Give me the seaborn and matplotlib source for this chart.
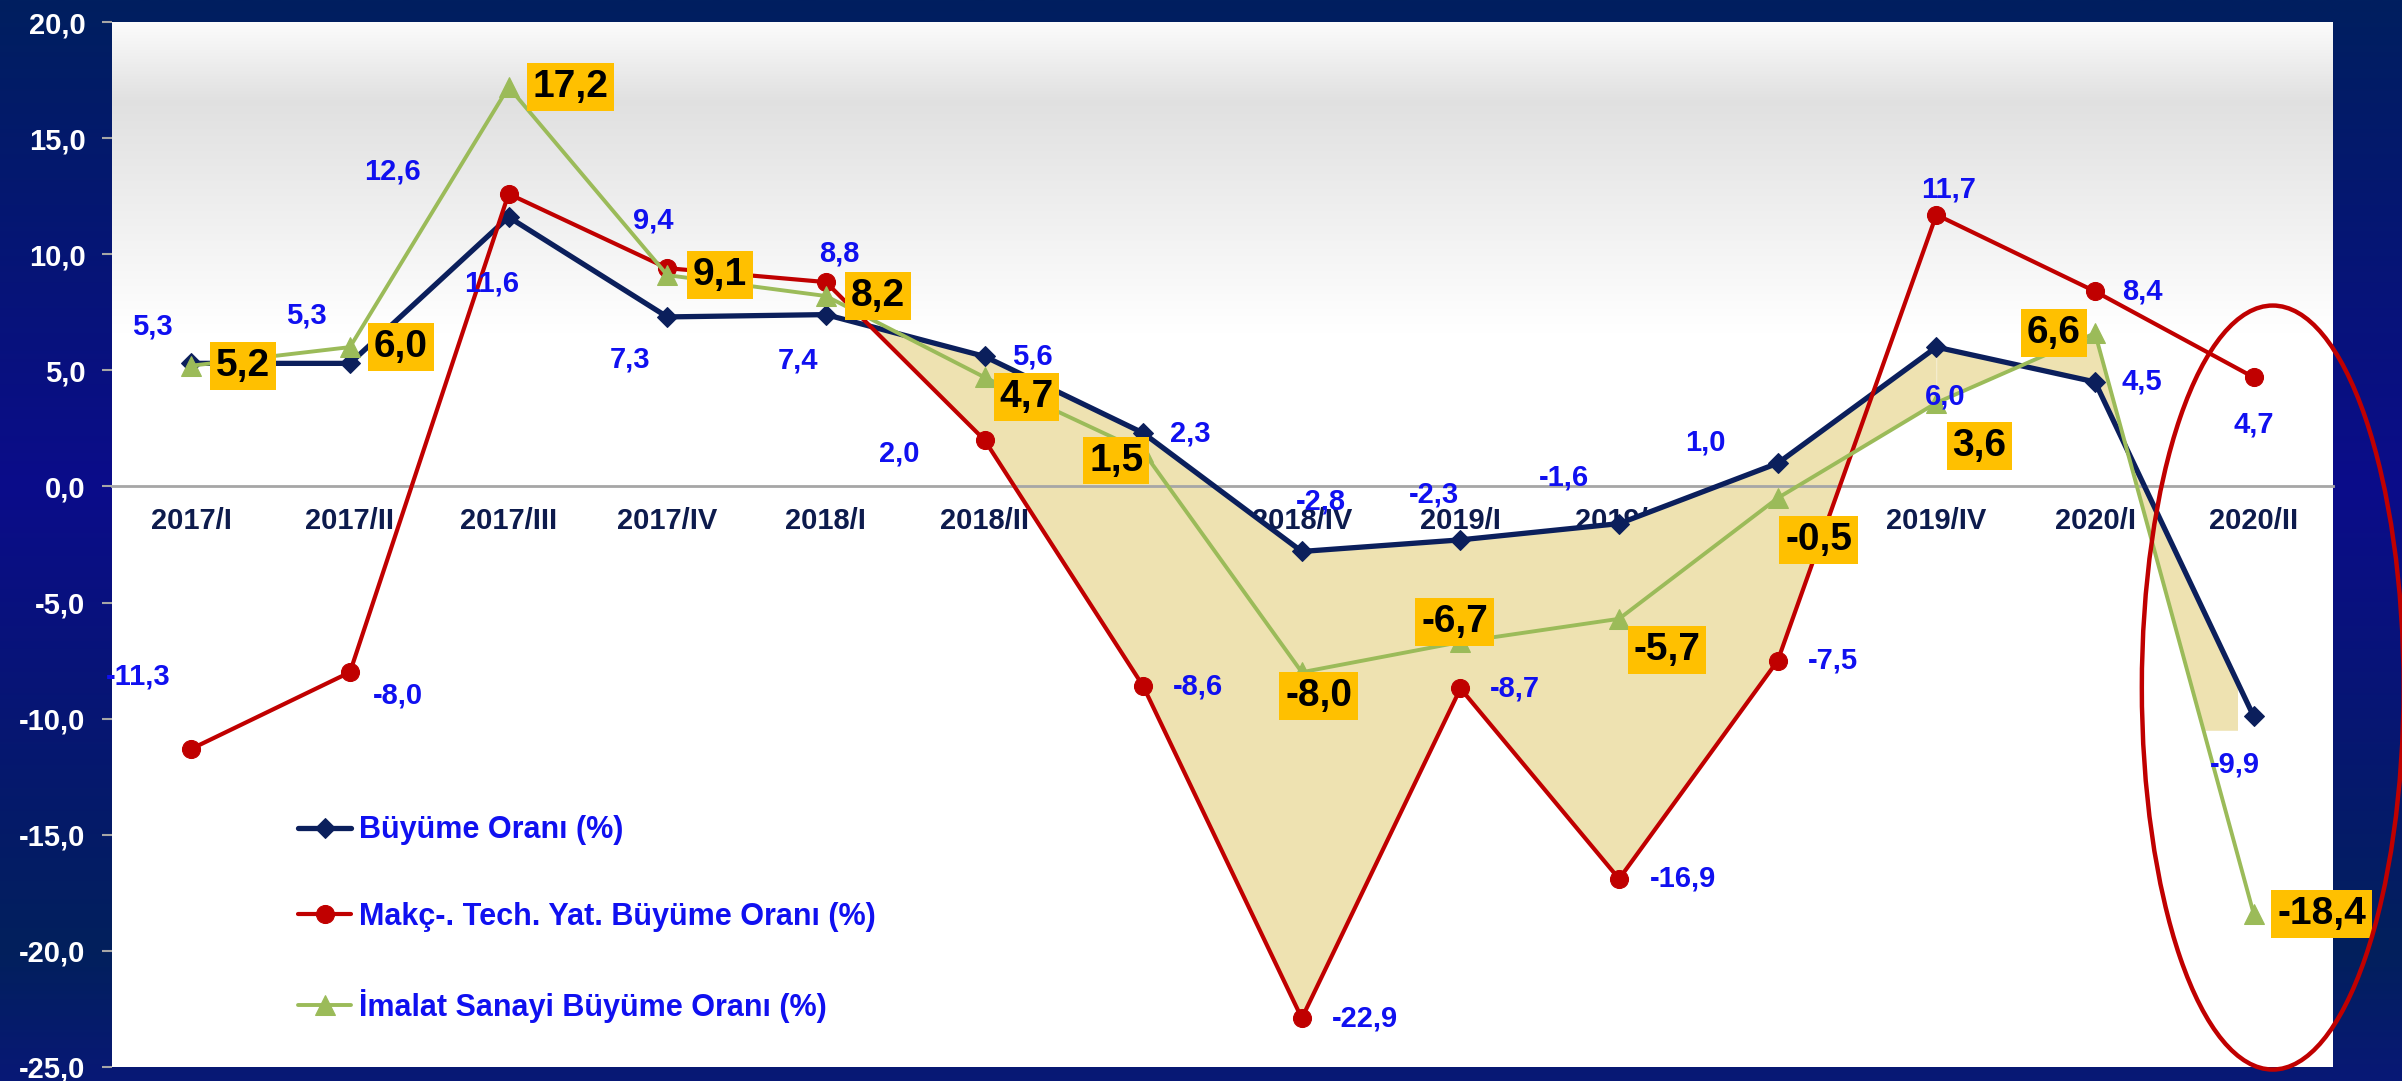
import numpy as np
import pandas as pd
import matplotlib
matplotlib.use("Agg")
import matplotlib.pyplot as plt
import seaborn as sns
from matplotlib.patches import Ellipse

# ---------------- data ----------------
categories = ["2017/I", "2017/II", "2017/III", "2017/IV", "2018/I", "2018/II", "2018/III",
              "2018/IV", "2019/I", "2019/II", "2019/III", "2019/IV", "2020/I", "2020/II"]
buyume = [5.3, 5.3, 11.6, 7.3, 7.4, 5.6, 2.3, -2.8, -2.3, -1.6, 1.0, 6.0, 4.5, -9.9]
makine = [-11.3, -8.0, 12.6, 9.4, 8.8, 2.0, -8.6, -22.9, -8.7, -16.9, -7.5, 11.7, 8.4, 4.7]
imalat = [5.2, 6.0, 17.2, 9.1, 8.2, 4.7, 1.5, -8.0, -6.7, -5.7, -0.5, 3.6, 6.6, -18.4]
series_names = ["Büyüme Oranı (%)", "Makç-. Tech. Yat. Büyüme Oranı (%)",
                "İmalat Sanayi Büyüme Oranı (%)"]
yticks = [-25, -20, -15, -10, -5, 0, 5, 10, 15, 20]

# label offsets (pixels) – layout only
off_buy = [(-39, 37), (-44, 48), (-17, -66), (-37, -43), (-28, -46), (48, 0), (47, 0),
           (19, 50), (-27, 45), (-55, 46), (-72, 21), (9, -49), (47, 0), (-19, -48)]
off_mak = [(-53, 72), (48, -23), (-116, 22), (-14, 48), (13, 29), (-85, -13), (55, 0),
           (63, 0), (54, 0), (64, 0), (55, 0), (12, 25), (47, 0), (0, -47)]
off_ima = [(52, 0), (51, 0), (62, 0), (53, 0), (52, 0), (42, -20), (-27, -9),
           (17, -24), (-6, 20), (48, -31), (41, -42), (43, -43), (-41, 0), (68, 0)]

W, H = 2402, 1081
NAVY = "#0B1F5C"
RED = "#C00000"
GREEN = "#9BBB59"
BLUE_TXT = "#1010F0"
FILL = "#EEE2B1"
XLAB = "#0D1B4D"
GRAY = "#A6A6A6"

sns.set_theme(style="white")
plt.rcParams["font.family"] = ["Liberation Sans", "DejaVu Sans"]
plt.rcParams["font.weight"] = "bold"

fig = plt.figure(figsize=(W / 100, H / 100), dpi=100)

# figure background gradient
bg = fig.add_axes([0, 0, 1, 1], zorder=-10)
t = np.linspace(0, 1, 600)
stops = [0.0, 0.45, 0.88, 1.0]
r = np.interp(t, stops, [0, 11, 2, 8]) / 255
g = np.interp(t, stops, [31, 12, 32, 24]) / 255
b = np.interp(t, stops, [95, 138, 92, 118]) / 255
grad = np.stack([r, g, b], axis=-1)[:, None, :]
bg.imshow(grad, aspect="auto", extent=[0, 1, 0, 1], origin="upper")
bg.set_xlim(0, 1); bg.set_ylim(0, 1)
bg.axis("off")

left, right, top, bottom = 112, 2333, 22, 1067
ax = fig.add_axes([left / W, 1 - bottom / H, (right - left) / W, (bottom - top) / H])
n = len(categories)
idx = np.arange(n)

# plot-area gradient
yy = np.linspace(20, -25, 600)
gv = np.interp(yy, [-25, 6.7, 16.6, 20], [1.0, 1.0, 0.88, 0.985])
pgrad = np.stack([gv, gv, gv], axis=-1)[:, None, :]
ax.imshow(pgrad, aspect="auto", extent=(-0.5, n - 0.5, -25, 20), zorder=0)

# shaded region between lines
xs = np.linspace(4, n - 1, 3000)
nav = np.interp(xs, idx, buyume)
red_i = np.interp(xs, idx, makine)
grn = np.interp(xs, idx, imalat)
lower = np.minimum(red_i, grn)
mA = xs <= 11
ax.fill_between(xs[mA], nav[mA], lower[mA], where=lower[mA] <= nav[mA],
                interpolate=True, color=FILL, lw=0, zorder=1)
mB = (xs >= 11) & (xs <= n - 1.1)
ax.fill_between(xs[mB], nav[mB], np.maximum(grn[mB], -10.5), color=FILL, lw=0, zorder=1)

# lines
sns.lineplot(x=idx, y=buyume, ax=ax, color=NAVY, lw=3.8, marker="D", markersize=10.5,
             markeredgecolor=NAVY, label=series_names[0], zorder=4)
sns.lineplot(x=idx, y=makine, ax=ax, color=RED, lw=3.0, marker="o", markersize=13,
             markeredgecolor=RED, label=series_names[1], zorder=4)
sns.lineplot(x=idx, y=imalat, ax=ax, color=GREEN, lw=2.8, marker="^", markersize=15,
             markeredgecolor=GREEN, label=series_names[2], zorder=4)


def fmt(v):
    return f"{v:.1f}".replace(".", ",")


for i, v in enumerate(buyume):
    ax.annotate(fmt(v), (i, v), xytext=off_buy[i], textcoords="offset pixels",
                ha="center", va="center", color=BLUE_TXT, fontsize=21,
                fontweight="bold", zorder=6, annotation_clip=False)
for i, v in enumerate(makine):
    ax.annotate(fmt(v), (i, v), xytext=off_mak[i], textcoords="offset pixels",
                ha="center", va="center", color=BLUE_TXT, fontsize=21,
                fontweight="bold", zorder=6, annotation_clip=False)
for i, v in enumerate(imalat):
    ax.annotate(fmt(v), (i, v), xytext=off_ima[i], textcoords="offset pixels",
                ha="center", va="center", color="black", fontsize=28,
                fontweight="bold", zorder=7, annotation_clip=False,
                bbox=dict(boxstyle="square,pad=0.15", fc="#FFC000", ec="none"))

# highlight ellipse around last period
ell = Ellipse((n - 1 + 0.12, -8.66), width=1.65, height=32.9, fill=False,
              ec=RED, lw=3.2, clip_on=False, zorder=8)
ax.add_patch(ell)

# axes styling
ax.set_xlim(-0.5, n - 0.5)
ax.set_ylim(-25, 20)
for s in ["top", "right", "left"]:
    ax.spines[s].set_visible(False)
ax.spines["bottom"].set_position(("data", 0))
ax.spines["bottom"].set_color(GRAY)
ax.spines["bottom"].set_linewidth(2)
ax.spines["bottom"].set_zorder(2)

ax.set_xticks(idx)
ax.set_xticklabels(categories)
ax.set_xticks(np.arange(0.5, n - 0.5, 1), minor=True)
ax.tick_params(axis="x", which="major", length=0, pad=15, labelsize=21, labelcolor=XLAB)
ax.tick_params(axis="x", which="minor", length=9, width=1.5, color=GRAY, direction="out")
ax.set_yticks(yticks)
ax.set_yticklabels([fmt(v) for v in yticks])
ax.tick_params(axis="y", which="major", left=True, length=7, width=1.5, color=GRAY,
               pad=12, labelsize=21, labelcolor="white", direction="out")
for lbl in ax.get_xticklabels() + ax.get_yticklabels():
    lbl.set_fontweight("bold")
ax.set_xlabel("")
ax.set_ylabel("")
ax.grid(False)

handles, labels = ax.get_legend_handles_labels()
leg = ax.legend(handles, labels, loc="center left",
                bbox_to_anchor=(298 / W, 1 - 919 / H), bbox_transform=fig.transFigure,
                frameon=False, prop={"size": 22, "weight": "bold"},
                handlelength=1.75, handletextpad=0.25, labelspacing=1.85,
                borderpad=0, borderaxespad=0)
for txt in leg.get_texts():
    txt.set_color(BLUE_TXT)
leg.set_zorder(9)

fig.savefig("out.png", dpi=100)
